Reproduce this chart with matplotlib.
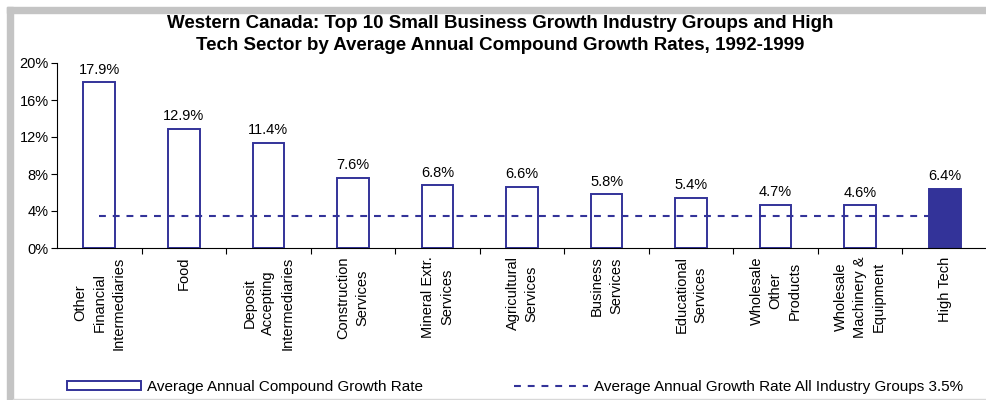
import numpy as np
import matplotlib
matplotlib.use('Agg')
from matplotlib import pyplot as plt
from matplotlib.lines import Line2D
from matplotlib.patches import Rectangle, Patch


categories = [
    'Other\nFinancial\nIntermediaries',
    'Food',
    'Deposit\nAccepting\nIntermediaries',
    'Construction\nServices',
    'Mineral Extr.\nServices',
    'Agricultural\nServices',
    'Business\nServices',
    'Educational\nServices',
    'Wholesale\nOther\nProducts',
    'Wholesale\nMachinery &\nEquipment',
    'High Tech',
]
growth = [17.9, 12.9, 11.4, 7.6, 6.8, 6.6, 5.8, 5.4, 4.7, 4.6, 6.4]
all_groups_avg = 3.5
yticks = [0, 4, 8, 12, 16, 20]

title = ('Western Canada: Top 10 Small Business Growth Industry Groups and High\n'
         'Tech Sector by Average Annual Compound Growth Rates, 1992-1999')
bar_label = 'Average Annual Compound Growth Rate'
avg_label = 'Average Annual Growth Rate All Industry Groups 3.5%'


def main():
    plt.rcParams['font.family'] = ['Liberation Sans', 'DejaVu Sans']
    navy = '#333399'

    fig = plt.figure(figsize=(9.87, 4.0), dpi=100)

    # grey frame round the chart (left, top and bottom edges)
    frame = '#c4c4c4'
    fig.patches.append(Rectangle((7 / 987, 0), 6 / 987, 393 / 400,
                                 transform=fig.transFigure, color=frame,
                                 zorder=0))
    fig.patches.append(Rectangle((7 / 987, 387 / 400), 980 / 987, 6 / 400,
                                 transform=fig.transFigure, color=frame,
                                 zorder=0))
    fig.patches.append(Rectangle((13 / 987, 0), 974 / 987, 1.5 / 400,
                                 transform=fig.transFigure, color='#d8d8d8',
                                 zorder=0))

    cat_w = 85.6
    ax = fig.add_axes([57 / 987, 152 / 400, 930 / 987, 185 / 400])
    x = np.arange(len(categories))
    n = len(growth)

    # average line runs under the bars
    ax.plot(x, [all_groups_avg] * n, color=navy, lw=1.5,
            linestyle=(0, (3.3, 3.3)), zorder=1)

    # hollow bars for the industry groups, filled one for high tech
    faces = ['none'] * (n - 1) + [navy]
    ax.bar(x, growth, width=0.375, color=faces, edgecolor=navy,
           linewidth=1.4, zorder=2)

    for xi, v in zip(x, growth):
        ax.annotate(f'{v:.1f}%', (xi, v), xytext=(0, 4),
                    textcoords='offset points', ha='center', va='bottom',
                    fontsize=10.5)

    ax.set_ylim(0, 20)
    ax.set_xlim(-0.5, -0.5 + 930 / cat_w)
    ax.set_yticks(yticks)
    ax.set_yticklabels([f'{t}%' for t in yticks], fontsize=10.5)

    ax.set_xticks(x)
    ax.set_xticklabels(categories, rotation=90, fontsize=10.5,
                       va='top', ha='center', multialignment='center',
                       linespacing=1.45)
    ax.set_xticks(np.arange(n) + 0.5, minor=True)
    ax.tick_params(axis='x', which='major', length=0, pad=6)
    ax.tick_params(axis='x', which='minor', length=4, direction='out',
                   width=0.8)
    ax.tick_params(axis='y', length=4, width=0.8, pad=2)

    for side in ('top', 'right'):
        ax.spines[side].set_visible(False)
    for side in ('left', 'bottom'):
        ax.spines[side].set_linewidth(0.8)

    fig.text(0.507, 1 - 15 / 400, title, ha='center', va='top',
             fontsize=13.5, fontweight='bold', linespacing=1.4)

    # legend along the bottom
    handles = [Patch(facecolor='white', edgecolor=navy, linewidth=1.4),
               Line2D([], [], color=navy, lw=1.5,
                      linestyle=(0, (3.3, 3.3)))]
    fig.legend(handles, [bar_label, avg_label], loc='center',
               bbox_to_anchor=(0.522, 13 / 400), ncol=2, frameon=False,
               fontsize=11, handlelength=4.8, handleheight=0.45,
               handletextpad=0.4, columnspacing=6.0)

    plt.savefig('out.png', dpi=100)


if __name__ == '__main__':
    main()
